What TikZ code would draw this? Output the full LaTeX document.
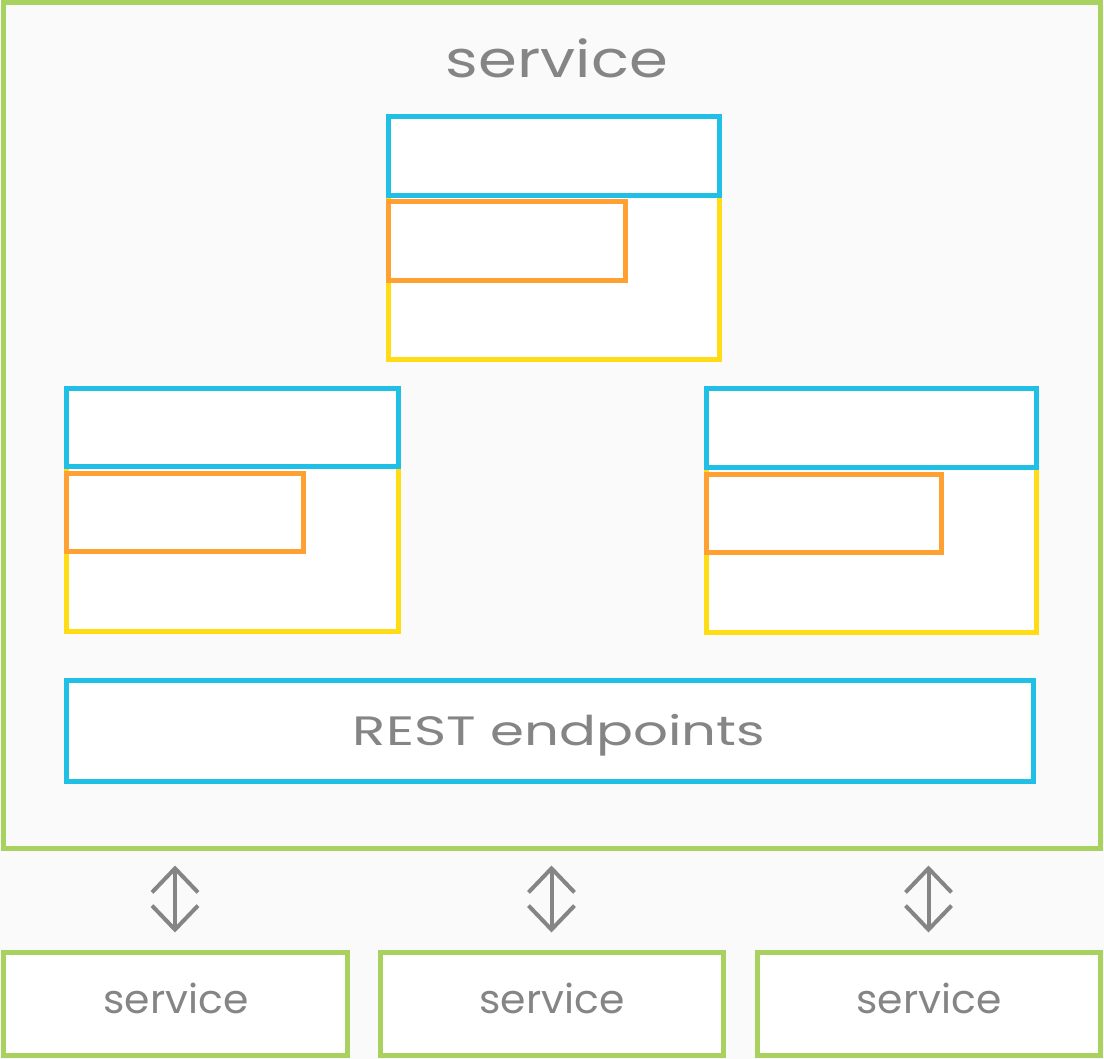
\documentclass[tikz,border=0pt]{standalone}
\usepackage{fontspec}
\usepackage{graphicx}
\setmainfont{Poppins}
\usetikzlibrary{arrows.meta}
\definecolor{bggray}{HTML}{FAFAFA}
\definecolor{lgreen}{HTML}{A9D160}
\definecolor{lblue}{HTML}{1FBFE6}
\definecolor{lorange}{HTML}{FFA032}
\definecolor{lyellow}{HTML}{FFDC14}
\definecolor{tgray}{HTML}{858585}
\begin{document}
\begin{tikzpicture}[x=1pt,y=-1pt,
  box/.style={draw, line width=5pt, inner sep=0pt, fill=white, rectangle},
  gbox/.style={box, draw=lgreen, fill=bggray},
  bbox/.style={box, draw=lblue},
  obox/.style={box, draw=lorange},
  ybox/.style={box, draw=lyellow},
  lbl/.style={text=tgray, inner sep=0pt},
  dbl/.style={draw=tgray, line width=4pt, {Straight Barb[length=24pt,width=46pt,line width=4pt]}-{Straight Barb[length=24pt,width=46pt,line width=4pt]}, shorten <=15pt, shorten >=17pt}
]
\fill[bggray] (0,0) rectangle (1104,1059);
\useasboundingbox (0,0) rectangle (1104,1059);
% outer service
\node[gbox, minimum width=1097pt, minimum height=845pt] (main) at (551.5,425.5) {};
\node[lbl, anchor=base, font=\fontsize{51}{60}\selectfont] (title) at (557,78) {\resizebox{222pt}{\height}{service}};
% top component
\node[ybox, minimum width=331pt, minimum height=164pt] (y1) at (553.5,278) {};
\node[bbox, minimum width=331pt, minimum height=79pt] (b1) at (553.5,156.5) {};
\node[obox, minimum width=237pt, minimum height=79pt] (o1) at (506.5,241.5) {};
% left component
\node[ybox, minimum width=332pt, minimum height=165pt] (y2) at (232,548.5) {};
\node[bbox, minimum width=332pt, minimum height=77pt] (b2) at (232,427.5) {};
\node[obox, minimum width=237pt, minimum height=78pt] (o2) at (184.5,512) {};
% right component
\node[ybox, minimum width=330pt, minimum height=165pt] (y3) at (871,549.5) {};
\node[bbox, minimum width=330pt, minimum height=78pt] (b3) at (871,428) {};
\node[obox, minimum width=235pt, minimum height=78pt] (o3) at (823.5,513) {};
% REST
\node[bbox, minimum width=967pt, minimum height=101pt] (rest) at (549.5,730.5) {};
\node[lbl, anchor=base, font=\fontsize{41}{48}\selectfont] (resttxt) at (559,745) {\resizebox{412pt}{\height}{REST endpoints}};
% bottom services
\node[gbox, fill=white, minimum width=344pt, minimum height=103pt] (s1) at (175,1003.5) {};
\node[gbox, fill=white, minimum width=343pt, minimum height=103pt] (s2) at (551.5,1003.5) {};
\node[gbox, fill=white, minimum width=343pt, minimum height=103pt] (s3) at (928.5,1003.5) {};
\node[lbl, anchor=base, font=\fontsize{40}{48}\selectfont] (t1) at (176,1013) {\resizebox{145pt}{\height}{service}};
\node[lbl, anchor=base, font=\fontsize{40}{48}\selectfont] (t2) at (552,1013) {\resizebox{145pt}{\height}{service}};
\node[lbl, anchor=base, font=\fontsize{40}{48}\selectfont] (t3) at (929,1013) {\resizebox{145pt}{\height}{service}};
% arrows
\draw[dbl] (s1.north |- main.south) -- (s1.north);
\draw[dbl] (s2.north |- main.south) -- (s2.north);
\draw[dbl] (s3.north |- main.south) -- (s3.north);
\end{tikzpicture}
\end{document}
